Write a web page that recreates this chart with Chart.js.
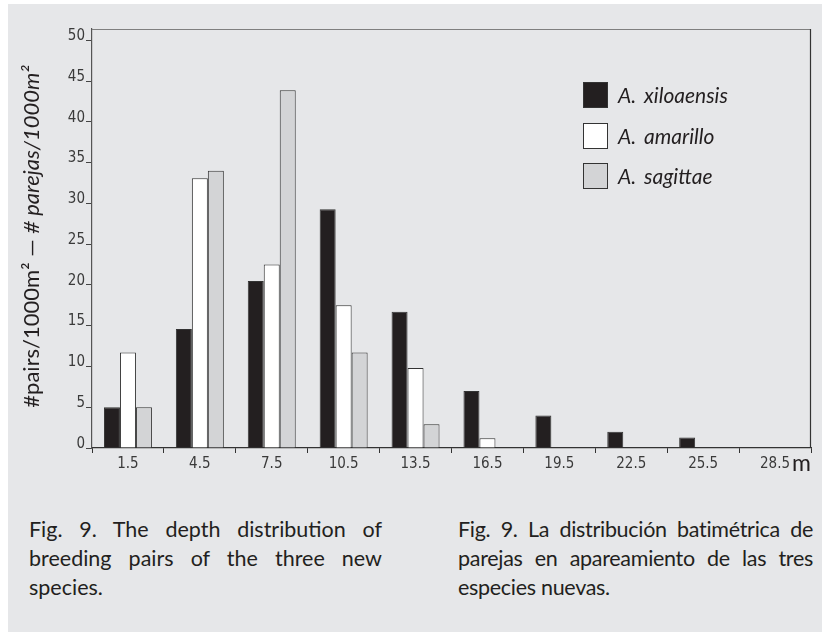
<!DOCTYPE html>
<html>
<head>
<meta charset="utf-8">
<script src="https://cdn.jsdelivr.net/npm/chart.js@4.4.1/dist/chart.umd.min.js"></script>
<style>
    html, body { margin: 0; padding: 0; background: #fff; }
    body { width: 822px; height: 632px; position: relative; overflow: hidden; }
    #panel { position: absolute; left: 8px; top: 4px; right: 0; bottom: 0; background: #e6e7e9; }
    #wrap { position: absolute; left: 0; top: 0; width: 822px; height: 490px; }
    #legend { position: absolute; left: 583px; top: 82px; font-family: Lato, sans-serif; font-style: italic; font-size: 21px; color: #231f20; }
    #legend .item { height: 40.7px; position: relative; }
    #legend .box { position: absolute; left: 0; top: 0; width: 23px; height: 24px; border: 1px solid #333; }
    #legend .txt { position: absolute; left: 35px; top: 0; line-height: 26px; white-space: nowrap; word-spacing: 3px; }
    .caption { position: absolute; top: 515px; font-family: Lato, sans-serif; font-size: 21.5px; line-height: 29px; color: #231f20; }
    .caption div { white-space: nowrap; }
    .caption .j { text-align: justify; text-align-last: justify; }
</style>
</head>
<body>
<div id="panel"></div>
<div id="wrap"><canvas id="depthChart" width="822" height="490"></canvas></div>
<div id="legend"></div>
<div class="caption" style="left:29px; width:353px;">
    <div class="j">Fig. 9. The depth distribution of</div>
    <div class="j">breeding pairs of the three new</div>
    <div>species.</div>
</div>
<div class="caption" style="left:458px; width:355px; letter-spacing:-0.3px;">
    <div class="j">Fig. 9. La distribución batimétrica de</div>
    <div class="j">parejas en apareamiento de las tres</div>
    <div>especies nuevas.</div>
</div>
<script>
// Tiefenklassen (m) und Paare pro 1000 m²
const depths = ["1.5", "4.5", "7.5", "10.5", "13.5", "16.5", "19.5", "22.5", "25.5", "28.5"];
const xiloaensis = [5.0, 14.6, 20.5, 29.3, 16.7, 7.0, 4.0, 2.0, 1.3, 0];
const amarillo = [11.7, 33.1, 22.5, 17.5, 9.8, 1.2, 0, 0, 0, 0];
const sagittae = [5.0, 34.0, 43.9, 11.7, 2.9, 0, 0, 0, 0, 0];
const yTicks = [0, 5, 10, 15, 20, 25, 30, 35, 40, 45, 50];

const INK = "#231f20";
const tickFamily = "'Liberation Sans Narrow', 'DejaVu Sans Condensed', Arial, sans-serif";

// Rahmen oben/rechts, Achsentitel, Einheit "m"
const framePlugin = {
    id: "frame",
    afterDraw(chart) {
        const ctx = chart.ctx;
        const a = chart.chartArea;
        ctx.save();
        ctx.lineWidth = 1.2;
        ctx.strokeStyle = "#7f7f7f";
        ctx.beginPath();
        ctx.moveTo(a.left, a.top + 0.5);
        ctx.lineTo(a.right, a.top + 0.5);
        ctx.stroke();
        ctx.strokeStyle = "#333";
        ctx.beginPath();
        ctx.moveTo(a.right - 0.5, a.top);
        ctx.lineTo(a.right - 0.5, a.bottom);
        ctx.stroke();

        // Einheit
        ctx.fillStyle = INK;
        ctx.font = "23px Lato, sans-serif";
        ctx.textAlign = "right";
        ctx.textBaseline = "alphabetic";
        ctx.fillText("m", a.right, a.bottom + 23);

        // y-Titel, zweisprachig
        const p1 = "#pairs/1000m\u00b2 \u2014 ";
        const p2 = "# parejas/1000m\u00b2";
        const f1 = "22px Lato, sans-serif";
        const f2 = "italic 22px Lato, sans-serif";
        ctx.font = f1;
        const w1 = ctx.measureText(p1).width;
        ctx.font = f2;
        const w2 = ctx.measureText(p2).width;
        ctx.translate(39, (a.top + a.bottom) / 2 - 2);
        ctx.rotate(-Math.PI / 2);
        ctx.textAlign = "left";
        const start = -(w1 + w2) / 2;
        ctx.font = f1;
        ctx.fillText(p1, start, 0);
        ctx.font = f2;
        ctx.fillText(p2, start + w1, 0);
        ctx.restore();
    }
};

const chart = new Chart(document.getElementById("depthChart"), {
    type: "bar",
    data: {
        labels: depths,
        datasets: [
            {label: "A. xiloaensis", data: xiloaensis, backgroundColor: INK},
            {label: "A. amarillo", data: amarillo, backgroundColor: "#ffffff"},
            {label: "A. sagittae", data: sagittae, backgroundColor: "#d3d4d6"}
        ]
    },
    options: {
        responsive: false,
        animation: false,
        layout: {padding: {top: 29, right: 11, left: 0, bottom: 0}},
        datasets: {
            bar: {
                categoryPercentage: 0.667,
                barPercentage: 1.0,
                borderColor: "#333",
                borderWidth: 1
            }
        },
        scales: {
            x: {
                offset: true,
                grid: {display: true, drawOnChartArea: false, offset: true, tickLength: 5, color: "#333", tickWidth: 1},
                border: {color: "#333", width: 1.2},
                ticks: {font: {family: tickFamily, size: 15}, color: "#3a3a3a", padding: 2, maxRotation: 0},
                afterFit: (scale) => { scale.height = 42; }
            },
            y: {
                min: 0,
                max: 51.4,
                grid: {display: true, drawOnChartArea: false, tickLength: 6, color: "#444", tickWidth: 1},
                border: {color: "#555", width: 1.2},
                ticks: {
                    font: {family: tickFamily, size: 15, lineHeight: 0.55},
                    color: "#3a3a3a",
                    padding: 1,
                    callback: (v) => [String(v), ""]
                },
                afterBuildTicks: (scale) => { scale.ticks = yTicks.map(v => ({value: v})); },
                afterFit: (scale) => { scale.width = 92; }
            }
        },
        plugins: {
            legend: {display: false},
            tooltip: {enabled: false}
        }
    },
    plugins: [framePlugin]
});

// Legende als HTML aus den Datensätzen
const legendEl = document.getElementById("legend");
chart.data.datasets.forEach(function (ds) {
    const item = document.createElement("div");
    item.className = "item";
    const box = document.createElement("div");
    box.className = "box";
    box.style.background = ds.backgroundColor;
    const txt = document.createElement("div");
    txt.className = "txt";
    txt.textContent = ds.label;
    item.appendChild(box);
    item.appendChild(txt);
    legendEl.appendChild(item);
});
</script>
</body>
</html>
